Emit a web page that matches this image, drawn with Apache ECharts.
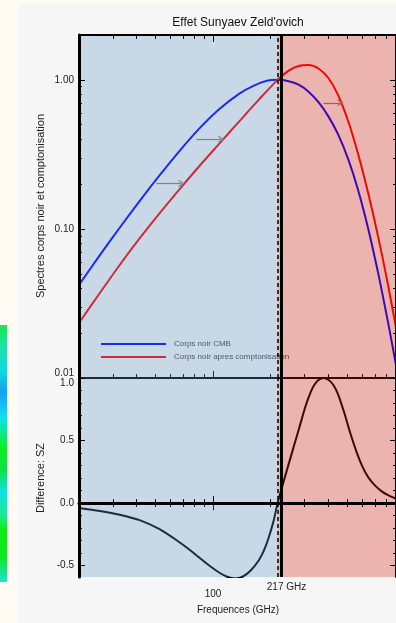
<!DOCTYPE html>
<html><head><meta charset="utf-8">
<script src="https://cdn.jsdelivr.net/npm/echarts@6/dist/echarts.min.js"></script>
<style>html,body{margin:0;padding:0;background:#fffbf2;} #c{width:396px;height:623px;}</style>
</head><body><div id="c"></div>
<script>
// ---- data ----
const freqCMB = [20, 25.7, 32.6, 41.4, 52.6, 66.8, 84.7, 107.6, 136.6, 163.4, 190.8, 217, 248, 279.5, 314.9, 354.8, 399.6, 450.4, 507.5, 571.8, 644.2, 726, 818, 900];
const cmb     = [0.0421, 0.0667, 0.1019, 0.1537, 0.2283, 0.3327, 0.4705, 0.635, 0.8054, 0.915, 0.9854, 1.0, 0.980, 0.928, 0.833, 0.708, 0.569, 0.4274, 0.2927, 0.1813, 0.1008, 0.0507, 0.0236, 0.01224];
const freqComp = [20, 25.7, 32.6, 41.4, 52.6, 66.8, 84.7, 107.6, 136.6, 173.4, 217, 248, 279.5, 314.9, 354.8, 399.6, 450.4, 507.5, 571.8, 644.2, 726, 818, 900];
const comp     = [0.0234, 0.0372, 0.0573, 0.0863, 0.1271, 0.1841, 0.2634, 0.3719, 0.5242, 0.7365, 1.0, 1.155, 1.239, 1.258, 1.192, 1.029, 0.785, 0.5255, 0.3155, 0.174, 0.0888, 0.042, 0.0218];
const freqDiff = [20, 25.7, 32.6, 41.4, 52.6, 66.8, 75.2, 84.7, 95.5, 107.6, 118.4, 130.2, 143.3, 157.6, 173.4, 184.1, 195.4, 207.4, 217, 233.7, 254.1, 279.5, 302.8, 321.4, 337.1, 354.8, 376.6, 399.6, 424.4, 450.4, 483.9, 519.7, 558.4, 599.9, 644.2, 700.5, 761.6, 827.7, 900];
const diffSZ   = [-0.038, -0.062, -0.092, -0.136, -0.208, -0.312, -0.370, -0.434, -0.498, -0.554, -0.588, -0.602, -0.586, -0.536, -0.456, -0.38, -0.272, -0.136, 0.0, 0.176, 0.368, 0.584, 0.768, 0.88, 0.944, 0.984, 1.0, 0.986, 0.944, 0.864, 0.72, 0.56, 0.416, 0.296, 0.208, 0.14, 0.092, 0.06, 0.036];

const xMinorTicks = [30, 40, 50, 60, 70, 80, 90, 200, 300, 400, 500, 600, 700, 800];
const xMajorTicks = [100];
const xLabels = [100, 217];
const yTopMinorTicks = [0.02, 0.03, 0.04, 0.05, 0.06, 0.07, 0.08, 0.09, 0.2, 0.3, 0.4, 0.5, 0.6, 0.7, 0.8, 0.9];
const yTopMajorTicks = [0.01, 0.1, 1];
const yTopLabels = [0.01, 0.1, 1];
const yBotMinorTicks = [-0.5, -0.4, -0.3, -0.2, -0.1, 0, 0.1, 0.2, 0.3, 0.4, 0.5, 0.6, 0.7, 0.8, 0.9, 1.0];
const yBotMajorTicks = [-0.5, 0, 0.5, 1.0];
const yBotLabels = [-0.5, 0, 0.5, 1.0];

const nullFreq = 217;             // SZ null
const edgeFreq = 226;             // solid edge of the right-hand region
const xRange = [20, 900];
const yTopRange = [0.01, 2];
const yBotRange = [-0.59, 1.0];

// arrows (annotations): [x0, x1, y]
const arrows = [[50.7, 68.4, 0.202], [81.8, 110.2, 0.399], [376.6, 461.3, 0.701]];

const names = ['Corps noir CMB', 'Corps noir apres comptonisation'];

// ---- chart ----
const FONT = "'Liberation Sans', Arial, Helvetica, sans-serif";
const BLUE_OV = 'rgba(93,147,197,0.3)', RED_OV = 'rgba(207,27,10,0.3)';
const zip = (a, b) => a.map((v, i) => [v, b[i]]);

function xAx(grid, pos, ticks, len, extra) {
  return Object.assign({
    type: 'log', logBase: 10, min: xRange[0], max: xRange[1], gridIndex: grid, position: pos,
    axisLine: { show: false }, splitLine: { show: false }, z: 1,
    axisTick: { show: true, inside: true, length: len, customValues: ticks, lineStyle: { color: '#000', width: 1 } },
    axisLabel: { show: false }
  }, extra || {});
}
function yAx(grid, pos, type, range, ticks, len, extra) {
  const o = {
    type: type, min: range[0], max: range[1], gridIndex: grid, position: pos,
    axisLine: { show: false }, splitLine: { show: false }, z: 10,
    axisTick: { show: true, inside: true, length: len, customValues: ticks, lineStyle: { color: '#000', width: 1 } },
    axisLabel: { show: false }
  };
  if (type === 'log') o.logBase = 10;
  return Object.assign(o, extra || {});
}
const lblStyle = { fontFamily: FONT, fontSize: 10, color: '#222' };

const option = {
  animation: false,
  backgroundColor: '#fffbf2',
  grid: [
    { left: 79, top: 35, width: 319, height: 343 },
    { left: 79, top: 378, width: 319, height: 199 }
  ],
  legend: {
    data: names, orient: 'vertical', left: 96, top: 334, itemWidth: 65, itemHeight: 2, itemGap: 3,
    icon: 'rect', z: 1, selectedMode: false,
    textStyle: { fontFamily: FONT, fontSize: 8, color: '#444', lineHeight: 10, padding: [0, 0, 0, 3] }
  },
  xAxis: [
    xAx(0, 'bottom', xMinorTicks, 4, { axisLine: { show: true, lineStyle: { color: '#000', width: 2 } }, z: 1 }),
    xAx(0, 'bottom', xMajorTicks, 7),
    xAx(0, 'top', xMinorTicks, 4, { axisLine: { show: true, lineStyle: { color: '#000', width: 2 } }, z: 10 }),
    xAx(0, 'top', xMajorTicks, 7, { z: 10 }),
    xAx(1, 'bottom', xMinorTicks, 4, {
      z: 10, axisLine: { show: true, lineStyle: { color: '#000', width: 3 } },
      axisLabel: Object.assign({ show: true, customValues: xLabels, margin: 4, lineHeight: 12,
        formatter: v => v > 150 ? '{g|' + v + ' GHz}' : '{lo|' + v + '}',
        rich: { g: Object.assign({ padding: [0, 0, 0, 18], lineHeight: 12 }, lblStyle), lo: Object.assign({ lineHeight: 26 }, lblStyle) }
      }, lblStyle)
    }),
    xAx(1, 'bottom', xMajorTicks, 7, { z: 10 }),
    xAx(1, 'top', xMinorTicks, 4),
    xAx(1, 'top', xMajorTicks, 7)
  ],
  yAxis: [
    yAx(0, 'left', 'log', yTopRange, yTopMinorTicks, 3, {
      axisLine: { show: true, lineStyle: { color: '#000', width: 3 } },
      axisLabel: Object.assign({ show: true, customValues: yTopLabels, margin: 5,
        formatter: v => v < 0.05 ? '{up|' + v.toFixed(2) + '}' : v.toFixed(2),
        rich: { up: Object.assign({ padding: [0, 0, 10, 0] }, lblStyle) }
      }, lblStyle)
    }),
    yAx(0, 'left', 'log', yTopRange, yTopMajorTicks, 6),
    yAx(0, 'right', 'log', yTopRange, yTopMinorTicks, 3, { axisLine: { show: true, lineStyle: { color: '#000', width: 2 } } }),
    yAx(0, 'right', 'log', yTopRange, yTopMajorTicks, 6),
    yAx(1, 'left', 'value', yBotRange, yBotMinorTicks, 3, {
      axisLine: { show: true, lineStyle: { color: '#000', width: 3 } },
      axisLabel: Object.assign({ show: true, customValues: yBotLabels, margin: 5,
        formatter: v => v > 0.9 ? '{dn|' + v.toFixed(1) + '}' : v.toFixed(1),
        rich: { dn: Object.assign({ padding: [10, 0, 0, 0] }, lblStyle) }
      }, lblStyle)
    }),
    yAx(1, 'left', 'value', yBotRange, yBotMajorTicks, 6),
    yAx(1, 'right', 'value', yBotRange, yBotMinorTicks, 3, { axisLine: { show: true, lineStyle: { color: '#000', width: 2 } } }),
    yAx(1, 'right', 'value', yBotRange, yBotMajorTicks, 6)
  ],
  graphic: [
    { type: 'rect', z: -10, shape: { x: 18, y: 4, width: 400, height: 640 }, style: { fill: '#f6f6f6' } },
    { type: 'rect', z: -10, shape: { x: 0, y: 325, width: 7, height: 257 }, style: { fill: new echarts.graphic.LinearGradient(0, 0, 0, 1, [
      { offset: 0, color: '#12e850' }, { offset: 0.08, color: '#20e0a0' }, { offset: 0.18, color: '#10d8e0' },
      { offset: 0.26, color: '#18a0f0' }, { offset: 0.36, color: '#10e0f0' }, { offset: 0.48, color: '#10ee20' },
      { offset: 0.56, color: '#10e040' }, { offset: 0.65, color: '#10e0e8' }, { offset: 0.74, color: '#20e890' },
      { offset: 0.8, color: '#10ec10' }, { offset: 0.9, color: '#10e820' }, { offset: 1, color: '#20e0d0' }]) } },
    { type: 'text', z: 20, x: 238, y: 23, style: { text: "Effet Sunyaev Zeld'ovich", fill: '#111', font: '12px ' + FONT, align: 'center', verticalAlign: 'middle' } },
    { type: 'text', z: 20, x: 41, y: 206, rotation: Math.PI / 2, style: { text: 'Spectres corps noir et comptonisation', fill: '#222', font: '11px ' + FONT, align: 'center', verticalAlign: 'middle' } },
    { type: 'text', z: 20, x: 41, y: 478, rotation: Math.PI / 2, style: { text: 'Difference: SZ', fill: '#222', font: '11px ' + FONT, align: 'center', verticalAlign: 'middle' } },
    { type: 'text', z: 20, x: 238, y: 610, style: { text: 'Frequences (GHz)', fill: '#222', font: '10px ' + FONT, align: 'center', verticalAlign: 'middle' } }
  ],
  series: [
    { name: names[0], type: 'line', xAxisIndex: 0, yAxisIndex: 0, data: zip(freqCMB, cmb), smooth: 0.3, showSymbol: false, z: 2,
      color: '#0000ff', lineStyle: { color: '#0000ff', width: 2 } },
    { name: names[1], type: 'line', xAxisIndex: 0, yAxisIndex: 0, data: zip(freqComp, comp), smooth: 0.3, showSymbol: false, z: 2,
      color: '#ff0000', lineStyle: { color: '#ff0000', width: 2 },
      markLine: { silent: true, z: 3, symbol: ['none', 'path://M0,10 L5,0 L10,10 L8.4,10.8 L5,3.6 L1.6,10.8 Z'], symbolSize: [7, 6],
        label: { show: false }, lineStyle: { color: '#808080', width: 1.2, type: 'solid' },
        data: arrows.map(a => [{ coord: [a[0], a[2]] }, { coord: [a[1], a[2]] }]) } },
    { type: 'line', xAxisIndex: 4, yAxisIndex: 4, data: zip(freqDiff, diffSZ), smooth: 0.3, showSymbol: false, z: 2,
      lineStyle: { color: '#000', width: 2 },
      markLine: { silent: true, z: 3, symbol: 'none', label: { show: false },
        data: [{ yAxis: 0, lineStyle: { color: '#000', width: 1.5, type: [5, 3] } }] } },
    // translucent region overlays + separators, top panel
    { type: 'line', xAxisIndex: 0, yAxisIndex: 0, data: [[nullFreq, 1]], showSymbol: false, lineStyle: { opacity: 0 }, z: 5, silent: true,
      markArea: { silent: true, z: 5, data: [
        [{ xAxis: xRange[0], itemStyle: { color: BLUE_OV } }, { xAxis: nullFreq }],
        [{ xAxis: nullFreq, itemStyle: { color: RED_OV } }, { xAxis: xRange[1] }] ] },
      markLine: { silent: true, z: 11, symbol: 'none', label: { show: false }, data: [
        { xAxis: nullFreq, lineStyle: { color: '#000', width: 1.5, type: [4, 3] } },
        { xAxis: edgeFreq, lineStyle: { color: '#000', width: 3, type: 'solid' } } ] } },
    // bottom panel
    { type: 'line', xAxisIndex: 4, yAxisIndex: 4, data: [[nullFreq, 0]], showSymbol: false, lineStyle: { opacity: 0 }, z: 5, silent: true,
      markArea: { silent: true, z: 5, data: [
        [{ xAxis: xRange[0], itemStyle: { color: BLUE_OV } }, { xAxis: nullFreq }],
        [{ xAxis: nullFreq, itemStyle: { color: RED_OV } }, { xAxis: xRange[1] }] ] },
      markLine: { silent: true, z: 11, symbol: 'none', label: { show: false }, data: [
        { xAxis: nullFreq, lineStyle: { color: '#000', width: 1.5, type: [4, 3] } },
        { xAxis: edgeFreq, lineStyle: { color: '#000', width: 3, type: 'solid' } } ] } }
  ]
};
const chart = echarts.init(document.getElementById('c'));
chart.setOption(option);
</script>
</body></html>
